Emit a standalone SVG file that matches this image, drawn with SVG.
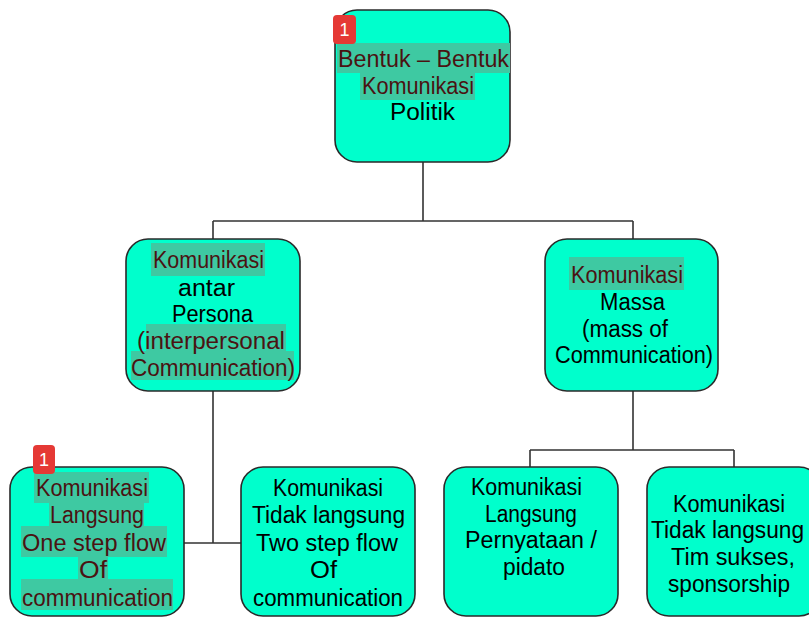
<svg xmlns="http://www.w3.org/2000/svg" width="809" height="617" viewBox="0 0 809 617">
<style>
.node{fill:#00ffcc;stroke:#2a2a2a;stroke-width:1.6}
.hl{fill:#3ec9a2}
.t{font-family:"Comic Sans MS","Liberation Sans",sans-serif;font-size:23px;fill:#000}
.th{fill:#4a1212}
.conn{fill:none;stroke:#333;stroke-width:1.6}
.badge{fill:#e53935}
.bt{font-family:"Liberation Sans",sans-serif;font-size:18px;fill:#fff;text-anchor:middle}
</style>
<rect width="809" height="617" fill="#fff"/>
<g id="connectors" class="conn">
<path d="M423,162 V221 M213,221 H633 M213,221 V239 M633,221 V239"/>
<path d="M213,391 V543 M184,543 H241"/>
<path d="M633,391 V450 M530,450 H734 M530,450 V467 M734,450 V467"/>
</g>
<g id="node-top">
<rect class="node" x="335" y="10" width="175" height="152" rx="22"/>
<rect class="hl" x="337" y="43" width="173" height="30"/>
<rect class="hl" x="360" y="69" width="115" height="31"/>
<text class="t th" x="338" y="67" textLength="171" lengthAdjust="spacingAndGlyphs">Bentuk – Bentuk</text>
<text class="t th" x="362" y="94" textLength="112" lengthAdjust="spacingAndGlyphs">Komunikasi</text>
<text class="t" x="390" y="120" textLength="65" lengthAdjust="spacingAndGlyphs">Politik</text>
</g>
<g id="node-interpersonal">
<rect class="node" x="126" y="239" width="174" height="152" rx="22"/>
<rect class="hl" x="151" y="243" width="114" height="33"/>
<rect class="hl" x="146" y="324" width="140" height="32"/>
<rect class="hl" x="131" y="351" width="163" height="29"/>
<text class="t th" x="153" y="268" textLength="111" lengthAdjust="spacingAndGlyphs">Komunikasi</text>
<text class="t" x="178" y="296" textLength="57" lengthAdjust="spacingAndGlyphs">antar</text>
<text class="t" x="172" y="322" textLength="81" lengthAdjust="spacingAndGlyphs">Persona</text>
<text class="t th" x="137" y="349" textLength="148" lengthAdjust="spacingAndGlyphs">(interpersonal</text>
<text class="t th" x="131" y="376" textLength="164" lengthAdjust="spacingAndGlyphs">Communication)</text>
</g>
<g id="node-massa">
<rect class="node" x="545" y="239" width="173" height="152" rx="22"/>
<rect class="hl" x="569" y="257" width="115" height="33"/>
<text class="t th" x="571" y="283" textLength="112" lengthAdjust="spacingAndGlyphs">Komunikasi</text>
<text class="t" x="600" y="310" textLength="65" lengthAdjust="spacingAndGlyphs">Massa</text>
<text class="t" x="582" y="337" textLength="86" lengthAdjust="spacingAndGlyphs">(mass of</text>
<text class="t" x="555" y="363" textLength="158" lengthAdjust="spacingAndGlyphs">Communication)</text>
</g>
<g id="node-langsung-1">
<rect class="node" x="10" y="467" width="174" height="149" rx="22"/>
<rect class="hl" x="34" y="472" width="115" height="31"/>
<rect class="hl" x="49" y="499" width="95" height="30"/>
<rect class="hl" x="21" y="526" width="146" height="31"/>
<rect class="hl" x="78" y="553" width="30" height="32"/>
<rect class="hl" x="21" y="579" width="152" height="31"/>
<text class="t th" x="36" y="496" textLength="112" lengthAdjust="spacingAndGlyphs">Komunikasi</text>
<text class="t th" x="50" y="523" textLength="94" lengthAdjust="spacingAndGlyphs">Langsung</text>
<text class="t th" x="22" y="551" textLength="144" lengthAdjust="spacingAndGlyphs">One step flow</text>
<text class="t th" x="79" y="578" textLength="28" lengthAdjust="spacingAndGlyphs">Of</text>
<text class="t th" x="22" y="606" textLength="151" lengthAdjust="spacingAndGlyphs">communication</text>
</g>
<g id="node-tidak-langsung-1">
<rect class="node" x="241" y="467" width="174" height="149" rx="22"/>
<text class="t" x="273" y="496" textLength="110" lengthAdjust="spacingAndGlyphs">Komunikasi</text>
<text class="t" x="252" y="523" textLength="153" lengthAdjust="spacingAndGlyphs">Tidak langsung</text>
<text class="t" x="256" y="551" textLength="142" lengthAdjust="spacingAndGlyphs">Two step flow</text>
<text class="t" x="310" y="578" textLength="27" lengthAdjust="spacingAndGlyphs">Of</text>
<text class="t" x="253" y="606" textLength="150" lengthAdjust="spacingAndGlyphs">communication</text>
</g>
<g id="node-langsung-2">
<rect class="node" x="444" y="467" width="174" height="149" rx="22"/>
<text class="t" x="471" y="495" textLength="111" lengthAdjust="spacingAndGlyphs">Komunikasi</text>
<text class="t" x="485" y="522" textLength="92" lengthAdjust="spacingAndGlyphs">Langsung</text>
<text class="t" x="465" y="548" textLength="132" lengthAdjust="spacingAndGlyphs">Pernyataan /</text>
<text class="t" x="503" y="575" textLength="62" lengthAdjust="spacingAndGlyphs">pidato</text>
</g>
<g id="node-tidak-langsung-2">
<rect class="node" x="647" y="467" width="174" height="149" rx="22"/>
<text class="t" x="673" y="512" textLength="112" lengthAdjust="spacingAndGlyphs">Komunikasi</text>
<text class="t" x="651" y="538" textLength="153" lengthAdjust="spacingAndGlyphs">Tidak langsung</text>
<text class="t" x="671" y="565" textLength="124" lengthAdjust="spacingAndGlyphs">Tim sukses,</text>
<text class="t" x="668" y="592" textLength="122" lengthAdjust="spacingAndGlyphs">sponsorship</text>
</g>
<g id="badges">
<rect class="badge" x="333" y="15" width="23" height="29" rx="4"/>
<text class="bt" x="344.5" y="36">1</text>
<rect class="badge" x="33" y="445" width="22" height="29" rx="4"/>
<text class="bt" x="44" y="466">1</text>
</g>
</svg>
